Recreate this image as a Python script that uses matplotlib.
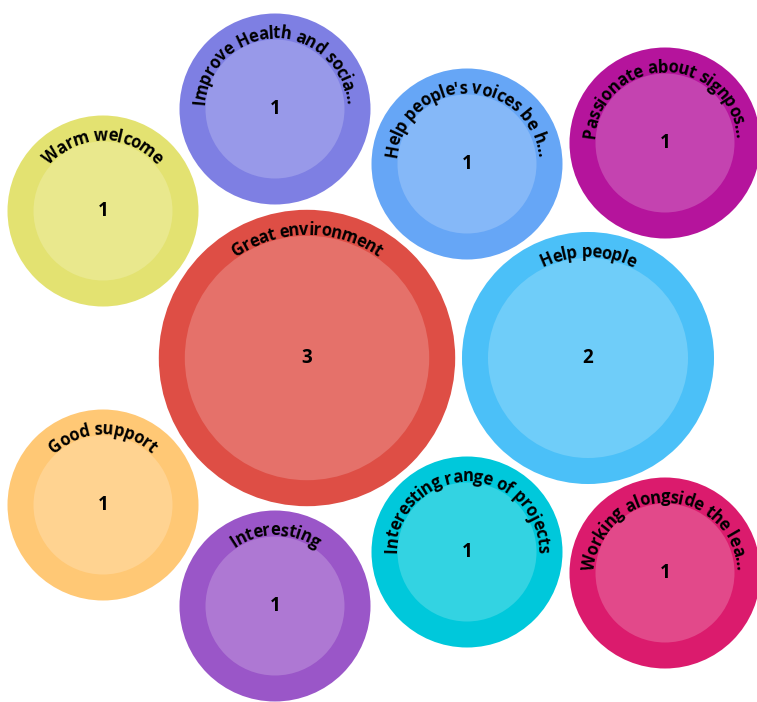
import numpy as np
import matplotlib
matplotlib.use("Agg")
import matplotlib.pyplot as plt
from matplotlib.patches import Circle
from matplotlib.font_manager import FontProperties, findfont, get_font
from matplotlib.ft2font import LoadFlags

# bubble data
labels = ["Great environment", "Help people", "Warm welcome",
          "Improve Health and socia\u2026", "Help people's voices be h\u2026",
          "Passionate about signpos\u2026", "Good support", "Interesting",
          "Interesting range of projects", "Working alongside the lea\u2026"]
values = [3, 2, 1, 1, 1, 1, 1, 1, 1, 1]
colors = ["#DE4E45", "#4BC0F8", "#E3E271", "#7E7FE3", "#66A6F6",
          "#B5149C", "#FFC875", "#9A56C8", "#00C8DB", "#DB1B6D"]

# packed layout (pixel centres of each bubble)
layout_x = [307, 588, 103, 275, 467, 665, 103, 275, 467, 665]
layout_y = [358, 358, 211, 109, 164, 143, 505, 606, 552, 573]

W, H, DPI = 757, 702, 100
RING = 26
LABEL_PT = 12
NUM_PT = 13.5
TRACK = 0.94

fig = plt.figure(figsize=(W / DPI, H / DPI), dpi=DPI)
ax = fig.add_axes([0, 0, 1, 1])
ax.set_xlim(0, W)
ax.set_ylim(H, 0)
ax.set_aspect("equal")
ax.axis("off")

fam = ["Open Sans", "DejaVu Sans"]
fp = FontProperties(family=fam, weight="bold", size=LABEL_PT)
font = get_font(findfont(fp))
font.set_size(LABEL_PT, DPI)


def adv(c):
    g = font.load_char(ord(c), flags=LoadFlags.NO_HINTING)
    a = g.linearHoriAdvance / 65536
    return a if c == " " else a * TRACK


def lighten(hexcol, f=0.2):
    rgb = np.array(matplotlib.colors.to_rgb(hexcol))
    return tuple(rgb * (1 - f) + f)


def curved_text(cx, cy, rb, s):
    w = [adv(c) for c in s]
    total = sum(w)
    pos = np.cumsum([0] + w[:-1]) + np.array(w) / 2 - total / 2
    for c, p in zip(s, pos):
        t = np.pi / 2 - p / rb
        ax.text(cx + rb * np.cos(t), cy - rb * np.sin(t), c,
                family=fam, weight="bold", fontsize=LABEL_PT, color="black",
                ha="center", va="baseline", rotation=np.degrees(t) - 90,
                rotation_mode="anchor", zorder=5)


for lab, v, col, cx, cy in zip(labels, values, colors, layout_x, layout_y):
    r = 95.5 * v ** 0.4
    ax.add_patch(Circle((cx, cy), r, facecolor=col, edgecolor="none", zorder=1))
    ax.add_patch(Circle((cx, cy), r - RING, facecolor=lighten(col),
                        edgecolor="none", zorder=2))
    curved_text(cx, cy, r - RING + 1, lab)
    ax.text(cx, cy, str(v), family=fam, weight="bold", fontsize=NUM_PT,
            ha="center", va="center", zorder=5)

fig.savefig("out.png", dpi=DPI)
